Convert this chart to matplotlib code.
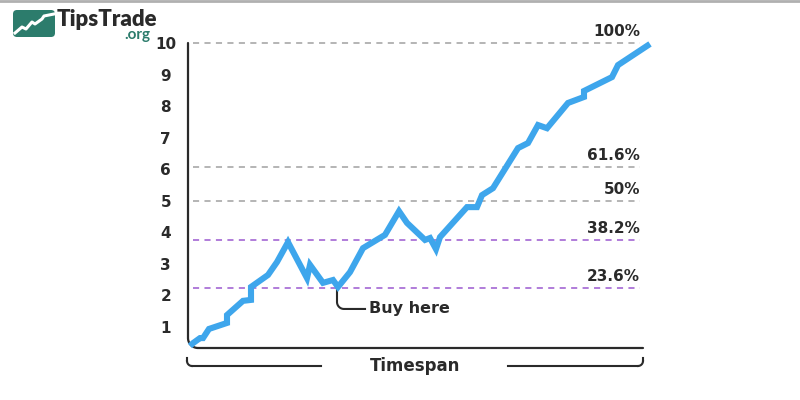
import numpy as np
import matplotlib
matplotlib.use("Agg")
import matplotlib.pyplot as plt
from matplotlib.patches import FancyBboxPatch

# price path (time step, price)
t = [0, 3, 10, 13, 19, 37, 37, 53, 61, 61, 78, 87, 98, 117, 120, 133, 143, 148,
     160, 173, 195, 209, 217, 235, 240, 246, 250, 277, 287, 292, 303, 328, 338,
     348, 357, 378, 394, 394, 422, 428, 460]
price = [0.40, 0.49, 0.65, 0.65, 0.94, 1.13, 1.38, 1.83, 1.86, 2.27, 2.65, 3.06,
         3.69, 2.55, 2.97, 2.40, 2.49, 2.27, 2.74, 3.50, 3.92, 4.67, 4.30, 3.76,
         3.82, 3.47, 3.85, 4.80, 4.80, 5.18, 5.40, 6.67, 6.83, 7.40, 7.30, 8.10,
         8.29, 8.48, 8.92, 9.30, 9.97]

fib_labels = ["100%", "61.6%", "50%", "38.2%", "23.6%"]
fib_levels = [10.0, 6.07, 5.0, 3.76, 2.23]
fib_colors = ["#a0a0a0", "#a0a0a0", "#a0a0a0", "#9b59d0", "#9b59d0"]

yticks = list(range(1, 11))
buy_t, buy_p = 148, 2.27

dark = "#2a2a2a"
blue = "#3ea6ec"
teal = "#2c7c6c"
plt.rcParams['font.family'] = ['DejaVu Sans']

fig = plt.figure(figsize=(8, 4), dpi=100)
W, H = 800, 400

ax = fig.add_axes([188 / W, 52 / H, 463 / W, 305 / H])
ax.set_xlim(-2, 461)
ax.set_ylim(0.336, 10.0)
for s in ax.spines.values():
    s.set_visible(False)
ax.set_xticks([])
ax.set_yticks(yticks)
ax.set_yticklabels([str(v) for v in yticks], fontsize=11, fontweight='bold', color=dark)
ax.tick_params(axis='y', length=0, pad=16)
for lab in ax.get_yticklabels():
    lab.set_ha('center')

# fibonacci levels
for lev, lab, col in zip(fib_levels, fib_labels, fib_colors):
    ax.plot([3, 450], [lev, lev], color=col, lw=1.1, ls=(0, (4, 3.5)), clip_on=False, zorder=1)
    ax.annotate(lab, (450, lev), xytext=(0, 3), textcoords='offset points',
                ha='right', va='bottom', fontsize=11, fontweight='bold', color=dark)

# L shaped frame with rounded corner
y0 = 0.336
r_px = 10
ry = r_px / 31.56
ang = np.linspace(np.pi, 1.5 * np.pi, 20)
fx = np.concatenate([[-2, -2], -2 + r_px + r_px * np.cos(ang), [453]])
fy = np.concatenate([[10.0, y0 + ry], y0 + ry + ry * np.sin(ang), [y0]])
ax.plot(fx, fy, color=dark, lw=1.6, clip_on=False, zorder=2, solid_capstyle='round')

# price line
ax.plot(t, price, color=blue, lw=4.4, clip_on=False, zorder=3,
        solid_joinstyle='miter', solid_capstyle='butt')

# buy here pointer
r2 = 7
ry2 = r2 / 31.56
y_h = buy_p - 22 / 31.56
ang2 = np.linspace(np.pi, 1.5 * np.pi, 20)
bx = np.concatenate([[buy_t - 1, buy_t - 1], buy_t - 1 + r2 + r2 * np.cos(ang2), [175]])
by = np.concatenate([[buy_p, y_h + ry2], y_h + ry2 + ry2 * np.sin(ang2), [y_h]])
ax.plot(bx, by, color=dark, lw=1.5, clip_on=False, zorder=2)
ax.text(179, y_h, "Buy here", ha='left', va='center', fontsize=11.5, fontweight='bold', color=dark)

# overlay in pixel coordinates for bracket and logo
ov = fig.add_axes([0, 0, 1, 1], zorder=-1)
ov.set_xlim(0, W)
ov.set_ylim(H, 0)
ov.axis('off')

ov.plot([0, W], [1, 1], color="#b0b0b0", lw=2)

# timespan bracket
ang3 = np.linspace(np.pi, 0.5 * np.pi, 10)
ov.plot([187, 187], [358, 361], color=dark, lw=1.5)
ov.plot(192 + 5 * np.cos(ang3), 361 + 5 * np.sin(ang3), color=dark, lw=1.5)
ov.plot([192, 321], [366, 366], color=dark, lw=1.5)
ov.plot([508, 638], [366, 366], color=dark, lw=1.5)
ov.plot(638 - 5 * np.cos(ang3), 361 + 5 * np.sin(ang3), color=dark, lw=1.5)
ov.plot([643, 643], [358, 361], color=dark, lw=1.5)
ov.text(415, 366, "Timespan", ha='center', va='center', fontsize=12, fontweight='bold', color=dark)

# logo
ov.add_patch(FancyBboxPatch((13, 10), 42, 27, boxstyle="round,pad=0,rounding_size=4",
                            fc=teal, ec='none'))
ov.plot([15, 22, 26, 32, 35, 42, 44, 54], [33, 27, 29, 22, 24, 19, 16, 14],
        color='white', lw=2.2, solid_joinstyle='round')
ov.text(57, 19, "TipsTrade", ha='left', va='center', fontsize=16, fontweight='heavy',
        color=dark, family=['Lato', 'DejaVu Sans'])
ov.text(124, 35, ".org", ha='left', va='center', fontsize=11, fontweight='bold',
        color=teal, family=['Lato', 'DejaVu Sans'])

fig.savefig("out.png", dpi=100)
